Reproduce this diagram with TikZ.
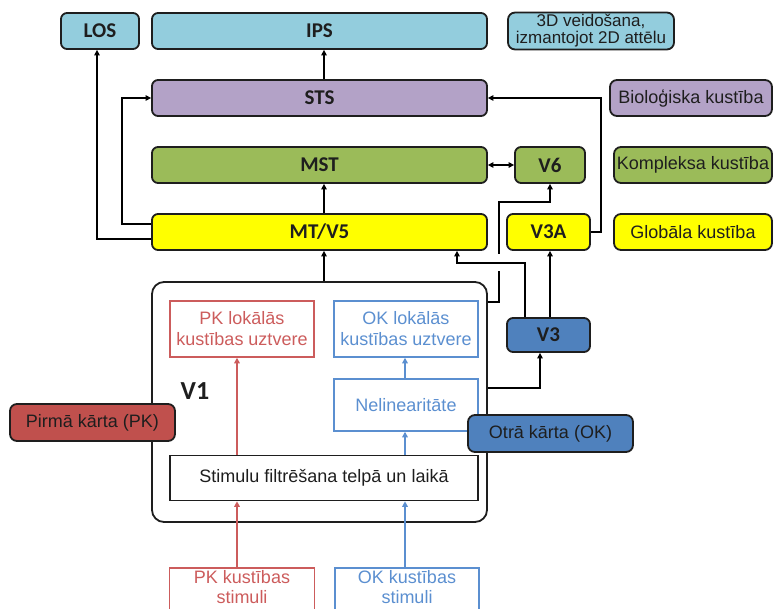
\documentclass[tikz,border=0pt]{standalone}
\usepackage{fontspec}
\setmainfont{Liberation Sans}
\newfontfamily\calib{Carlito}
\usetikzlibrary{arrows.meta}

\definecolor{cyanbox}{HTML}{93CDDD}
\definecolor{violetbox}{HTML}{B3A2C7}
\definecolor{greenbox}{HTML}{9BBB59}
\definecolor{yellowbox}{HTML}{FFFF00}
\definecolor{bluebox}{HTML}{4F81BD}
\definecolor{redbox}{HTML}{C0504D}
\definecolor{pkred}{HTML}{CC5C5C}
\definecolor{okblue}{HTML}{5B8FD0}
\definecolor{ink}{HTML}{1E1E1E}

\tikzset{
  area/.style={draw=ink, line width=1.8pt, rounded corners=6pt, minimum height=36pt,
    inner sep=2pt, align=center, text=ink,
    font=\calib\bfseries\fontsize{21}{24}\selectfont},
  tag/.style={draw=ink, line width=1.8pt, rounded corners=7pt, minimum height=36pt,
    inner sep=2pt, align=center, text=ink,
    font=\fontsize{18}{20}\selectfont},
  pkbox/.style={draw=pkred, line width=1.5pt, text=pkred, align=center,
    inner sep=2pt, font=\fontsize{18}{21}\selectfont},
  okbox/.style={draw=okblue, line width=1.5pt, text=okblue, align=center,
    inner sep=2pt, font=\fontsize{18}{21}\selectfont},
  link/.style={draw=black, line width=1.8pt, -{Triangle[length=5.5pt,width=5.5pt]}},
  pklink/.style={draw=pkred, line width=1.6pt, -{Triangle[length=5.5pt,width=5.5pt]}},
  oklink/.style={draw=okblue, line width=1.6pt, -{Triangle[length=5.5pt,width=5.5pt]}},
}

\begin{document}
\begin{tikzpicture}[x=1pt,y=-1pt]
\useasboundingbox (0,0) rectangle (774,608);

% cortical areas
\node[area, fill=cyanbox, minimum width=78pt]  (los) at (100,31)   {LOS};
\node[area, fill=cyanbox, minimum width=335pt] (ips) at (319.5,31) {IPS};
\node[tag, fill=cyanbox, minimum width=166pt, font=\fontsize{17}{17}\selectfont] (form) at (591,31) {3D veidošana,\\izmantojot 2D attēlu};

\node[area, fill=violetbox, minimum width=335pt] (sts) at (319.5,98) {STS};
\node[tag, fill=violetbox, minimum width=162pt] (bio) at (691,98) {Bioloģiska kustība};

\node[area, fill=greenbox, minimum width=335pt] (mst) at (319.5,165) {MST};
\node[area, fill=greenbox, minimum width=70pt]  (v6)  at (550,165)   {V6};
\node[tag, fill=greenbox, minimum width=158pt]  (komp) at (693,165)  {Kompleksa kustība};

\node[area, fill=yellowbox, minimum width=335pt] (mt)  at (319.5,232) {MT/V5};
\node[area, fill=yellowbox, minimum width=83pt]  (v3a) at (548.5,232) {V3A};
\node[tag, fill=yellowbox, minimum width=158pt]  (glob) at (693,232)  {Globāla kustība};

\node[area, fill=bluebox, minimum width=83pt, minimum height=34pt] (v3) at (548.5,335) {V3};

% V1 and its inner stages
\node[draw=ink, line width=1.8pt, rounded corners=12pt, minimum width=335pt,
      minimum height=240pt] (v1) at (319.5,402) {};
\node[text=ink, font=\calib\bfseries\fontsize{26}{28}\selectfont] (v1lab) at (195,391) {V1};

\node[pkbox, minimum width=144pt, minimum height=56pt] (pkloc) at (242,329) {PK lokālās\\kustības uztvere};
\node[okbox, minimum width=144pt, minimum height=56pt] (okloc) at (406,329) {OK lokālās\\kustības uztvere};
\node[okbox, minimum width=144pt, minimum height=52pt] (nelin) at (406,405) {Nelinearitāte};
\node[draw=ink, line width=1.6pt, minimum width=308pt, minimum height=45pt, text=ink,
      font=\fontsize{18}{20}\selectfont] (filt) at (324,478) {Stimulu filtrēšana telpā un laikā};

% stimuli, running off the lower edge
\node[pkbox, minimum width=145pt, minimum height=60pt, anchor=north] (pkstim) at (242,567) {};
\node[text=pkred, align=center, font=\fontsize{18}{20}\selectfont] (pkstimtxt) at (242,587) {PK kustības\\stimuli};
\node[okbox, minimum width=144pt, minimum height=60pt, anchor=north] (okstim) at (407,567) {};
\node[text=okblue, align=center, font=\fontsize{18}{20}\selectfont] (okstimtxt) at (407,587) {OK kustības\\stimuli};

% black pathways
\draw[link] ([yshift=-7pt]mt.west) -| ([xshift=-3pt]los.south);
\draw[link] ([yshift=8pt]mt.west) -- ++(-29,0) |- (sts.west);
\draw[link] ([xshift=4.5pt]sts.north) -- ([xshift=4.5pt]ips.south);
\draw[link] ([xshift=4.5pt]mt.north) -- ([xshift=4.5pt]mst.south);
\draw[link] ([xshift=4.5pt]v1.north) -- ([xshift=4.5pt]mt.south);
\draw[link, {Triangle[length=5.5pt,width=5.5pt]}-{Triangle[length=5.5pt,width=5.5pt]}] (mst.east) -- (v6.west);
\draw[link] (v3a.east) -- ++(10,0) |- (sts.east);

\coordinate (v6turn) at (499,202);
\draw[link] ([yshift=100pt]v1.east) -| (v6turn) -| (v6.south);
\draw[white, line width=5pt] (499,254) -- (499,271);

\coordinate (v3mt) at (457,263);
\draw[link] ([xshift=-23.5pt]v3.north) |- (v3mt) -- (v3mt |- mt.south);
\draw[link] ([xshift=1.5pt]v3.north) -- ([xshift=1.5pt]v3a.south);
\draw[link] ([yshift=14pt]v1.east) -| ([xshift=-8.5pt]v3.south);

% first-order (red) and second-order (blue) streams
\draw[pklink] ([xshift=-5pt]pkstim.north) -- ([xshift=-5pt]pkstim.north |- filt.south);
\draw[pklink] ([xshift=-5pt]pkloc.south |- filt.north) -- ([xshift=-5pt]pkloc.south);
\draw[oklink] ([xshift=-2pt]okstim.north) -- ([xshift=-2pt]okstim.north |- filt.south);
\draw[oklink] ([xshift=-1pt]nelin.south |- filt.north) -- ([xshift=-1pt]nelin.south);
\draw[oklink] ([xshift=-1pt]nelin.north) -- ([xshift=-1pt]okloc.south);

% order labels on top
\node[tag, fill=redbox, minimum width=165pt, minimum height=37pt] (pk) at (92.5,422.5) {Pirmā kārta (PK)};
\node[tag, fill=bluebox, minimum width=165pt, minimum height=37pt] (ok) at (550.5,433.5) {Otrā kārta (OK)};
\end{tikzpicture}
\end{document}
